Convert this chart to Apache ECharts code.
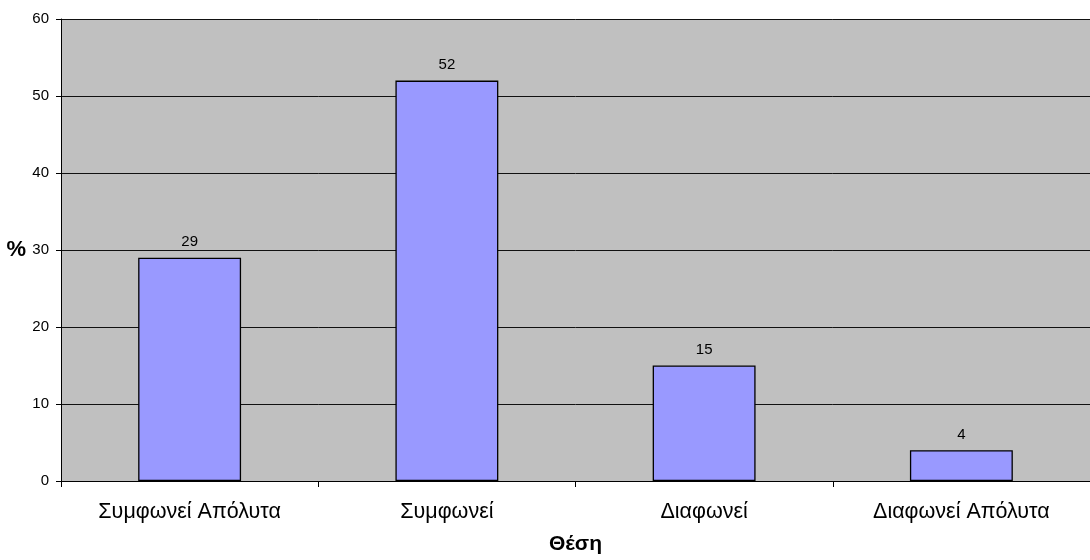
<!DOCTYPE html>
<html>
<head>
<meta charset="utf-8">
<script src="https://cdn.jsdelivr.net/npm/echarts@6/dist/echarts.min.js"></script>
<style>
  html, body { margin: 0; padding: 0; background: #ffffff; }
  #chart { width: 1090px; height: 560px; }
</style>
</head>
<body>
<div id="chart"></div>
<script>
// Responses by position (percent)
const categories = ['Συμφωνεί Απόλυτα', 'Συμφωνεί', 'Διαφωνεί', 'Διαφωνεί Απόλυτα'];
const percentages = [29, 52, 15, 4];
const yTicks = [0, 10, 20, 30, 40, 50, 60];

const chart = echarts.init(document.getElementById('chart'), null, { renderer: 'canvas' });
const font = 'Liberation Sans, Arial, sans-serif';

chart.setOption({
  animation: false,
  backgroundColor: '#ffffff',
  grid: {
    left: 61, top: 19, width: 1036, height: 466,
    show: true, backgroundColor: '#c0c0c0', borderWidth: 0
  },
  xAxis: {
    type: 'category',
    data: categories,
    boundaryGap: true,
    name: 'Θέση',
    nameLocation: 'middle',
    nameGap: 53,
    nameTextStyle: { fontFamily: font, fontSize: 21, fontWeight: 'bold', color: '#000' },
    axisLine: { lineStyle: { color: '#000', width: 1 } },
    axisTick: { show: true, alignWithLabel: false, length: 6, lineStyle: { color: '#000' } },
    axisLabel: { fontFamily: font, fontSize: 21.5, color: '#000', margin: 20, interval: 0 },
    splitLine: { show: false }
  },
  yAxis: {
    type: 'value',
    min: yTicks[0],
    max: yTicks[yTicks.length - 1],
    interval: 10,
    name: '%',
    nameLocation: 'middle',
    nameRotate: 0,
    nameGap: 35,
    nameTextStyle: { fontFamily: font, fontSize: 22, fontWeight: 'bold', color: '#000' },
    axisLine: { show: true, lineStyle: { color: '#000', width: 1 } },
    axisTick: { show: true, length: 5, lineStyle: { color: '#000' } },
    axisLabel: { fontFamily: font, fontSize: 15, color: '#000', margin: 12 },
    splitLine: { show: true, lineStyle: { color: '#111', width: 1 } }
  },
  series: [{
    type: 'bar',
    data: percentages,
    barWidth: '40%',
    itemStyle: { color: '#9999ff', borderColor: '#000', borderWidth: 1.3 },
    label: {
      show: true,
      position: 'top',
      distance: 8,
      fontFamily: font,
      fontSize: 15,
      color: '#000'
    }
  }]
});
</script>
</body>
</html>
